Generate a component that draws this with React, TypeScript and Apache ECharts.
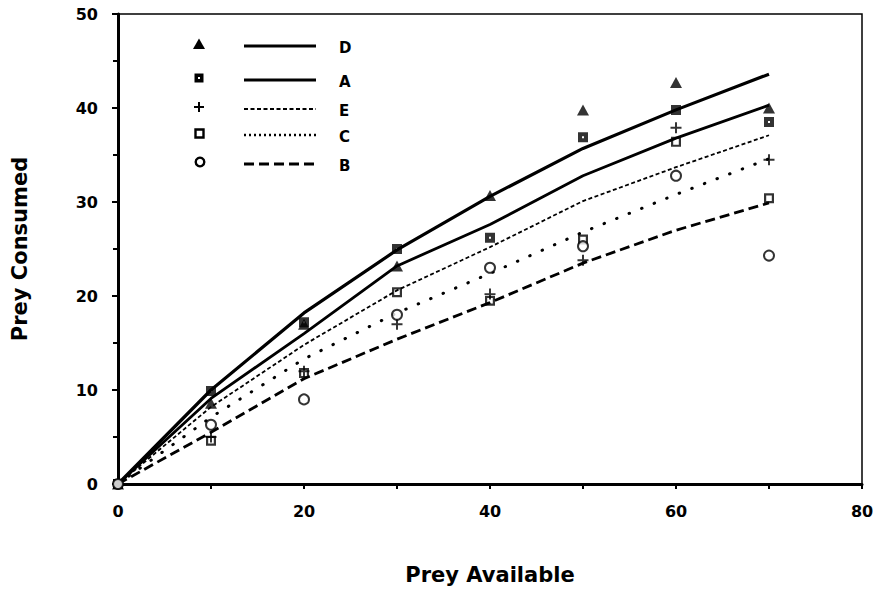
import React, { useEffect, useRef } from "react";
import * as echarts from "echarts";

// ---- data ----
const xObs = [0, 10, 20, 30, 40, 50, 60, 70];
const seriesNames = ["D", "A", "E", "C", "B"];
// observed points
const obsD = [0, 8.6, 17.0, 23.2, 30.7, 39.8, 42.7, 40.0];
const obsA = [0, 9.9, 17.2, 25.0, 26.2, 36.9, 39.8, 38.5];
const obsE = [0, 5.0, 12.0, 17.0, 20.2, 23.8, 37.9, 34.5];
const obsC = [0, 4.6, 11.8, 20.4, 19.5, 26.0, 36.4, 30.4];
const obsB = [0, 6.3, 9.0, 18.0, 23.0, 25.3, 32.8, 24.3];
// fitted curves
const fitD = [0, 10.0, 18.2, 24.9, 30.6, 35.7, 39.8, 43.6];
const fitA = [0, 9.1, 16.0, 23.2, 27.6, 32.8, 36.8, 40.3];
const fitE = [0, 8.2, 14.8, 20.6, 25.2, 30.1, 33.7, 37.1];
const fitC = [0, 7.1, 13.3, 18.2, 22.4, 26.8, 30.8, 34.6];
const fitB = [0, 5.5, 11.2, 15.4, 19.3, 23.5, 27.0, 29.9];
const yTicks = [0, 10, 20, 30, 40, 50];
const xTicks = [0, 20, 40, 60, 80];

const FONT = "DejaVu Sans";

const SYM_FILLED_SQ = "path://M0,0H10V10H0Z M4,4V6H6V4Z";
const SYM_PLUS = "path://M4.1,0H5.9V4.1H10V5.9H5.9V10H4.1V5.9H0V4.1H4.1Z";
const SYM_OPEN_SQ = "path://M0,0H10V10H0Z M2.2,2.2V7.8H7.8V2.2Z";

const pairs = (ys: number[]) => xObs.map((x, i) => [x, ys[i]]);

export default function App() {
  const ref = useRef<HTMLDivElement>(null);
  useEffect(() => {
    document.body.style.margin = "0";
    const chart = echarts.init(ref.current!, null, { renderer: "svg" });

    const lineStyles: any[] = [
      { width: 3.2, type: "solid" },
      { width: 2.8, type: "solid" },
      { width: 1.8, type: [4, 2.5] },
      { width: 3, type: [0.5, 13], cap: "round" },
      { width: 2.8, type: [10, 5] },
    ];
    const fits = [fitD, fitA, fitE, fitC, fitB];
    const obs = [obsD, obsA, obsE, obsC, obsB];
    const symbols = ["triangle", SYM_FILLED_SQ, SYM_PLUS, SYM_OPEN_SQ, "emptyCircle"];
    const symSizes: any[] = [[12, 11], 10, 11, 10, 10];

    const series: any[] = [];
    seriesNames.forEach((n, i) => {
      series.push({
        name: n + " fit",
        type: "line",
        data: pairs(fits[i]),
        symbol: "none",
        smooth: false,
        lineStyle: { color: "#000", ...lineStyles[i] },
        z: 2,
      });
    });
    seriesNames.forEach((n, i) => {
      series.push({
        name: n,
        type: "scatter",
        data: pairs(obs[i]),
        symbol: symbols[i],
        symbolSize: symSizes[i],
        itemStyle:
          i === 4
            ? { color: "#000", borderColor: "#000", borderWidth: 2.2 }
            : { color: "#000" },
        z: 3,
      });
    });

    // legend (drawn as graphics)
    const legX = 199;
    const legY = [44, 78, 107, 133, 162];
    const lineX0 = 244;
    const lineX1 = 316;
    const textX = 339;
    const graphics: any[] = [];
    const legDash = [null, null, [4, 2.5], [2, 3], [10, 5]];
    legY.forEach((y, i) => {
      graphics.push({
        type: "line",
        shape: { x1: lineX0, y1: y + 2, x2: lineX1, y2: y + 2 },
        style: {
          stroke: "#000",
          lineWidth: i === 3 ? 2.4 : lineStyles[i].width,
          lineDash: legDash[i],
          lineCap: "butt",
        },
      });
      graphics.push({
        type: "text",
        x: textX,
        y: y + 4,
        style: {
          text: seriesNames[i],
          font: `bold 15px "${FONT}"`,
          fill: "#000",
          verticalAlign: "middle",
        },
      });
    });
    // markers
    graphics.push({
      type: "polygon",
      shape: { points: [[legX, legY[0] - 5.5], [legX + 6, legY[0] + 5], [legX - 6, legY[0] + 5]] },
      style: { fill: "#000" },
    });
    graphics.push({
      type: "rect",
      shape: { x: legX - 4.5, y: legY[1] - 4.5, width: 9, height: 9 },
      style: { fill: "#000" },
    });
    graphics.push({
      type: "rect",
      shape: { x: legX - 1, y: legY[1] - 1, width: 2, height: 2 },
      style: { fill: "#fff" },
    });
    graphics.push({
      type: "line",
      shape: { x1: legX - 5, y1: legY[2], x2: legX + 5, y2: legY[2] },
      style: { stroke: "#000", lineWidth: 2 },
    });
    graphics.push({
      type: "line",
      shape: { x1: legX, y1: legY[2] - 5, x2: legX, y2: legY[2] + 5 },
      style: { stroke: "#000", lineWidth: 2 },
    });
    graphics.push({
      type: "rect",
      shape: { x: legX - 3.5, y: legY[3] - 3.5, width: 8, height: 8 },
      style: { fill: "none", stroke: "#000", lineWidth: 2.4 },
    });
    graphics.push({
      type: "circle",
      shape: { cx: legX + 1, cy: legY[4], r: 4.3 },
      style: { fill: "none", stroke: "#000", lineWidth: 2.4 },
    });

    chart.setOption({
      animation: false,
      backgroundColor: "#fff",
      grid: {
        left: 118,
        right: 15,
        top: 14,
        bottom: 106,
        show: true,
        borderColor: "#000",
        borderWidth: 1.5,
      },
      xAxis: {
        type: "value",
        min: 0,
        max: 80,
        interval: 10,
        name: "Prey Available",
        nameLocation: "middle",
        nameGap: 80,
        nameTextStyle: { fontFamily: FONT, fontWeight: "bold", fontSize: 21, color: "#000" },
        axisLine: { show: true, onZero: false, lineStyle: { color: "#000", width: 3 } },
        axisTick: { show: true, length: 5, lineStyle: { color: "#000", width: 2 } },
        axisLabel: {
          margin: 19,
          fontFamily: FONT,
          fontWeight: "bold",
          fontSize: 16,
          color: "#000",
          formatter: (v: number) => (xTicks.includes(v) ? String(v) : ""),
        },
        splitLine: { show: false },
      },
      yAxis: {
        type: "value",
        min: 0,
        max: 50,
        interval: 10,
        name: "Prey Consumed",
        nameLocation: "middle",
        nameGap: 88,
        nameTextStyle: { fontFamily: FONT, fontWeight: "bold", fontSize: 21, color: "#000" },
        axisLine: { show: true, onZero: false, lineStyle: { color: "#000", width: 3 } },
        axisTick: { show: true, length: 6, lineStyle: { color: "#000", width: 2 } },
        minorTick: { show: true, splitNumber: 2, length: 5, lineStyle: { color: "#000", width: 2 } },
        axisLabel: {
          margin: 20,
          fontFamily: FONT,
          fontWeight: "bold",
          fontSize: 16,
          color: "#000",
          formatter: (v: number) => (yTicks.includes(v) ? String(v) : ""),
        },
        splitLine: { show: false },
      },
      graphic: graphics,
      series,
    });
    return () => chart.dispose();
  }, []);
  return <div ref={ref} style={{ width: 877, height: 590 }} />;
}
